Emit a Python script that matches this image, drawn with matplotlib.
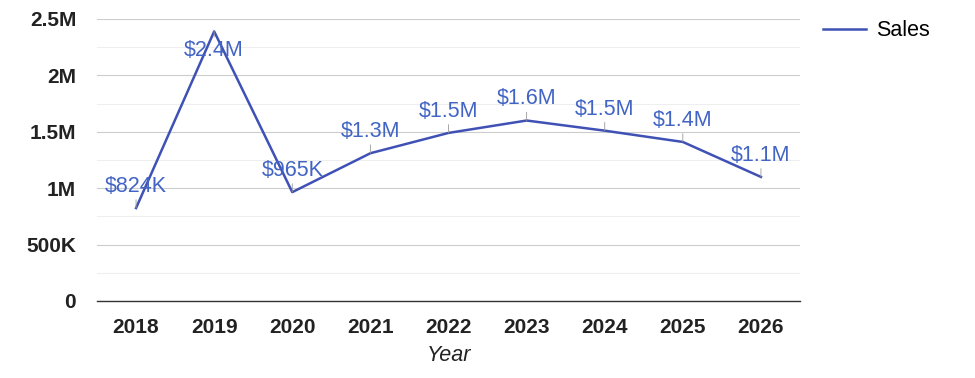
import matplotlib.pyplot as plt
from matplotlib.ticker import FuncFormatter, MultipleLocator

plt.rcParams['font.family'] = ['Liberation Sans', 'DejaVu Sans']

anios = ['2018', '2019', '2020', '2021', '2022', '2023', '2024', '2025', '2026']
ventas = [824000, 2390000, 965000, 1310000, 1490000, 1600000, 1510000, 1410000, 1100000]
etiquetas = ['$824K', '$2.4M', '$965K', '$1.3M', '$1.5M', '$1.6M', '$1.5M', '$1.4M', '$1.1M']

COLOR_LINEA = '#3f51b5'
COLOR_TEXTO = '#4264c4'


def formato_eje(v, pos):
    if v == 0:
        return '0'
    if v >= 1e6:
        return f"{v / 1e6:g}M"
    return f"{v / 1e3:g}K"


fig = plt.figure(figsize=(9.75, 3.78), dpi=100)
ax = fig.add_axes([97 / 975, 1 - 301 / 378, (800 - 97) / 975, (301 - 19) / 378])

x = list(range(len(anios)))
ax.plot(x, ventas, color=COLOR_LINEA, lw=1.8, label='Sales', zorder=3)

for i, (v, txt) in enumerate(zip(ventas, etiquetas)):
    if i == 1:
        # el pico no cabe arriba, la etiqueta va debajo
        ax.annotate(txt, (i, v), xytext=(0, -6), textcoords='offset points',
                    ha='center', va='top', fontsize=15.5, color=COLOR_TEXTO,
                    arrowprops=dict(arrowstyle='-', color='#999999', lw=0.6,
                                    shrinkA=0, shrinkB=0), zorder=4)
    else:
        ax.annotate(txt, (i, v), xytext=(0, 8), textcoords='offset points',
                    ha='center', va='bottom', fontsize=15.5, color=COLOR_TEXTO,
                    arrowprops=dict(arrowstyle='-', color='#999999', lw=0.6,
                                    shrinkA=0, shrinkB=0), zorder=4)

ax.set_xlim(-0.5, len(anios) - 0.5)
ax.set_ylim(0, 2500000)
ax.yaxis.set_major_locator(MultipleLocator(500000))
ax.yaxis.set_minor_locator(MultipleLocator(250000))
ax.yaxis.set_major_formatter(FuncFormatter(formato_eje))
ax.grid(axis='y', which='major', color='#cccccc', lw=0.8)
ax.grid(axis='y', which='minor', color='#eeeeee', lw=0.8)
ax.set_axisbelow(True)

ax.set_xticks(x)
ax.set_xticklabels(anios)
for lbl in ax.get_xticklabels() + ax.get_yticklabels():
    lbl.set_fontweight('bold')
    lbl.set_fontsize(15)
    lbl.set_color('#222222')
ax.tick_params(axis='both', which='both', length=0)
ax.tick_params(axis='x', pad=12)
ax.tick_params(axis='y', pad=15)

for lado in ['top', 'right', 'left']:
    ax.spines[lado].set_visible(False)
ax.spines['bottom'].set_color('#333333')
ax.spines['bottom'].set_linewidth(1.0)

ax.set_xlabel('Year', fontsize=15.5, fontstyle='italic', color='#222222', labelpad=6)

ax.legend(loc='upper left', bbox_to_anchor=(804 / 975, 1 - 1 / 378),
          bbox_transform=fig.transFigure, frameon=False, fontsize=15.5,
          handlelength=2.0, handletextpad=0.47)

plt.savefig('out.png', dpi=100)
